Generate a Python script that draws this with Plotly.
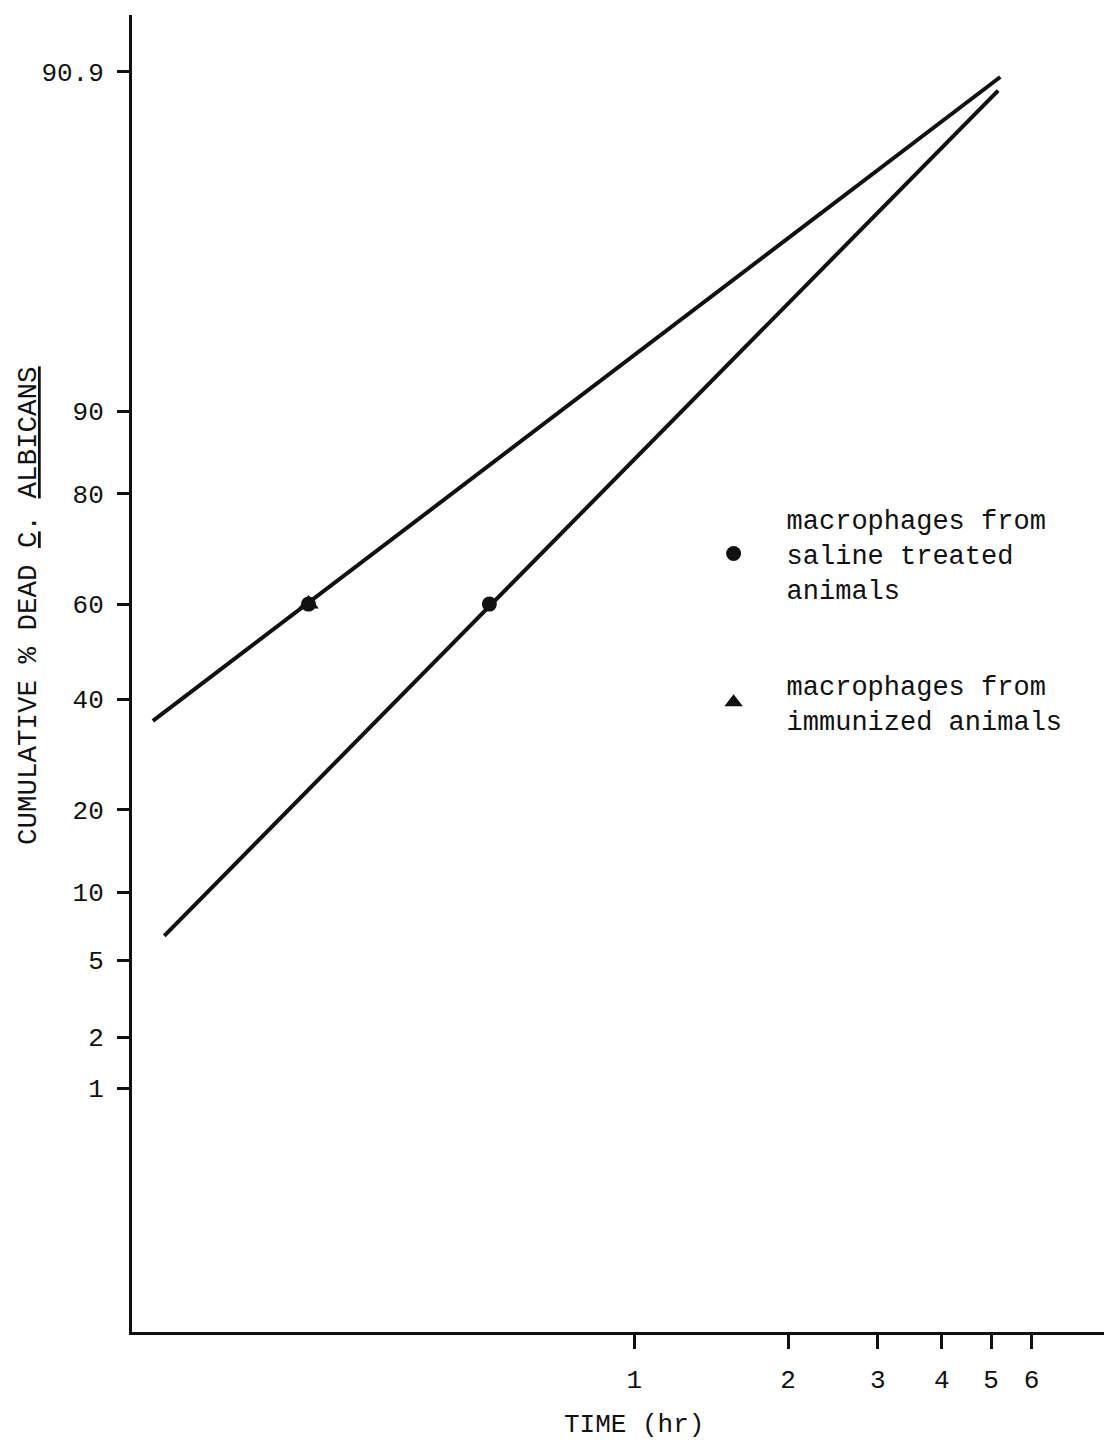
from statistics import NormalDist
import plotly.graph_objects as go

# Probability (probit) scale for cumulative percent, log scale for time
_nd = NormalDist()


def probit(pct):
    return _nd.inv_cdf(pct / 100.0)


# Fitted lines: end points (time in hr, cumulative % dead)
saline_line_t = [0.114, 5.21]
saline_line_pct = [35.6, 99.89]
immune_line_t = [0.120, 5.16]
immune_line_pct = [6.5, 99.86]

# Observed points
saline_t = [0.23, 0.52]
saline_pct = [60, 60]
immune_t = [0.23]
immune_pct = [60]

# Axis ticks
y_tick_pct = [99.9, 90, 80, 60, 40, 20, 10, 5, 2, 1]
y_tick_text = ["90.9", "90", "80", "60", "40", "20", "10", "5", "2", "1"]
x_tick_vals = [1, 2, 3, 4, 5, 6]
x_tick_text = ["1", "2", "3", "4", "5", "6"]

FONT = "Liberation Mono"
INK = "#111111"

fig = go.Figure()

fig.add_trace(go.Scatter(
    x=saline_line_t, y=[probit(p) for p in saline_line_pct],
    mode="lines", line=dict(color=INK, width=4), showlegend=False,
    hoverinfo="skip"))
fig.add_trace(go.Scatter(
    x=immune_line_t, y=[probit(p) for p in immune_line_pct],
    mode="lines", line=dict(color=INK, width=4), showlegend=False,
    hoverinfo="skip"))

fig.add_trace(go.Scatter(
    x=saline_t, y=[probit(p) for p in saline_pct],
    mode="markers", name="macrophages from<br>saline treated<br>animals",
    legendgroup="a",
    marker=dict(symbol="circle", size=15, color=INK)))
fig.add_trace(go.Scatter(
    x=immune_t, y=[probit(p) for p in immune_pct],
    mode="markers", name="macrophages from<br>immunized animals",
    legendgroup="b",
    marker=dict(symbol="triangle-up", size=18, color=INK)))

fig.update_xaxes(
    type="log",
    range=[-0.984, 0.920],
    tickvals=x_tick_vals, ticktext=x_tick_text,
    ticks="outside", ticklen=14, tickwidth=3, tickcolor=INK,
    ticklabelstandoff=8,
    showline=True, linewidth=3, linecolor=INK,
    showgrid=False, zeroline=False,
    tickfont=dict(family=FONT, size=26, color=INK),
)
fig.update_yaxes(
    range=[-3.625, 3.392],
    tickvals=[probit(p) for p in y_tick_pct], ticktext=y_tick_text,
    ticks="outside", ticklen=12, tickwidth=3, tickcolor=INK,
    ticklabelstandoff=8,
    showline=True, linewidth=3, linecolor=INK,
    showgrid=False, zeroline=False,
    tickfont=dict(family=FONT, size=26, color=INK),
)

fig.add_annotation(
    text="TIME (hr)", x=0, xref="x", y=-0.0706, yref="paper",
    showarrow=False, xanchor="center", yanchor="middle",
    font=dict(family=FONT, size=26, color=INK))
fig.add_annotation(
    text="CUMULATIVE % DEAD <u>C</u>. <u>ALBICANS</u>",
    x=-0.107, xref="paper", y=0.552, yref="paper", textangle=-90,
    showarrow=False, xanchor="center", yanchor="middle",
    font=dict(family=FONT, size=27.5, color=INK))

fig.update_layout(
    width=1104, height=1441,
    margin=dict(l=132, r=0, t=15, b=109),
    paper_bgcolor="white", plot_bgcolor="white",
    font=dict(family=FONT, size=26, color=INK),
    legend=dict(
        x=0.5644, xanchor="left", y=0.636, yanchor="top",
        bgcolor="rgba(0,0,0,0)", tracegroupgap=58, itemwidth=96,
        font=dict(family=FONT, size=27, color=INK)),
)

fig.write_html("out.html")
